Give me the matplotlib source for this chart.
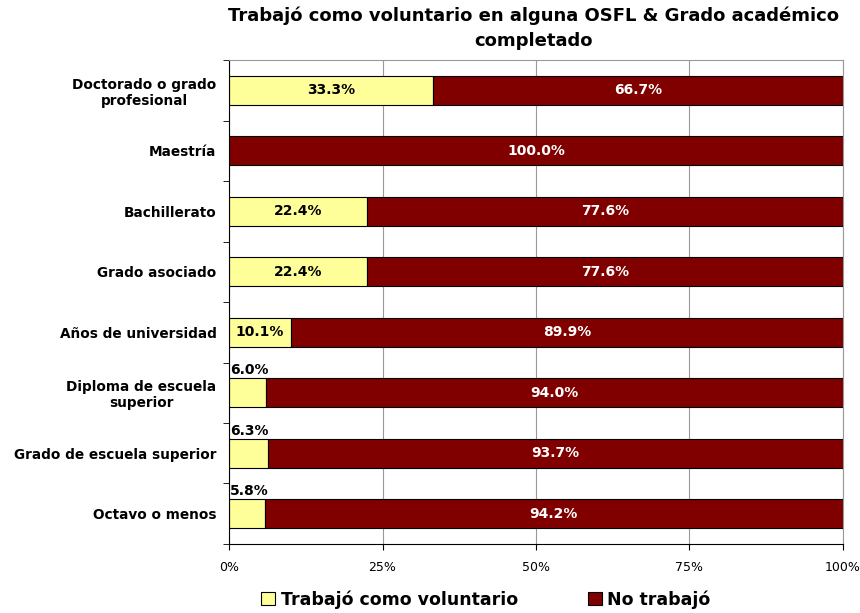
import matplotlib.pyplot as plt
import numpy as np

plt.rcParams['font.family'] = ['DejaVu Sans']

categorias = ["Doctorado o grado\nprofesional", "Maestría", "Bachillerato", "Grado asociado",
              "Años de universidad", "Diploma de escuela\nsuperior", "Grado de escuela superior",
              "Octavo o menos"]
voluntario = [33.3, 0.0, 22.4, 22.4, 10.1, 6.0, 6.3, 5.8]
no_trabajo = [66.7, 100.0, 77.6, 77.6, 89.9, 94.0, 93.7, 94.2]

amarillo = "#FFFF99"
rojo = "#800000"

fig = plt.figure(figsize=(8.6, 6.13), dpi=100)
ax = fig.add_axes([0.2663, 0.1126, 0.9802 - 0.2663, 0.902 - 0.1126])

y = np.arange(len(categorias))
b1 = ax.barh(y, voluntario, height=0.48, color=amarillo, edgecolor="black", linewidth=0.8,
             label="Trabajó como voluntario")
b2 = ax.barh(y, no_trabajo, left=voluntario, height=0.48, color=rojo, edgecolor="black",
             linewidth=0.8, label="No trabajó")

for i in range(len(categorias)):
    v = voluntario[i]
    n = no_trabajo[i]
    if v >= 10:
        ax.text(v / 2, y[i], f"{v:.1f}%", ha="center", va="center", fontsize=10,
                fontweight="bold", color="black")
    elif v > 0:
        ax.text(0.2, y[i] - 0.26, f"{v:.1f}%", ha="left", va="bottom", fontsize=10,
                fontweight="bold", color="black")
    ax.text(v + n / 2, y[i], f"{n:.1f}%", ha="center", va="center", fontsize=10,
            fontweight="bold", color="white")

ax.set_xlim(0, 100)
ax.set_ylim(len(categorias) - 0.5, -0.5)
ax.set_xticks([0, 25, 50, 75, 100])
ax.set_xticklabels(["0%", "25%", "50%", "75%", "100%"], fontsize=9)
ax.xaxis.grid(True, color="#999999", linewidth=0.8)
ax.set_axisbelow(True)

ax.set_yticks(y)
ax.set_yticklabels(categorias, fontsize=9.8, fontweight="bold")
for lbl in ax.get_yticklabels():
    lbl.set_multialignment("center")
ax.tick_params(axis="y", length=0, pad=9)
ax.set_yticks(np.arange(-0.5, len(categorias), 1), minor=True)
ax.tick_params(axis="y", which="minor", length=4, direction="out")
ax.tick_params(axis="x", length=4, pad=8)

for s in ["top", "right"]:
    ax.spines[s].set_color("#999999")
for s in ["left", "bottom"]:
    ax.spines[s].set_color("black")

fig.suptitle("Trabajó como voluntario en alguna OSFL & Grado académico\ncompletado",
             x=0.62, y=0.99, fontsize=13, fontweight="bold", linespacing=1.5)

fig.legend(handles=[b1, b2], loc="center", bbox_to_anchor=(0.565, 0.022), ncol=2,
           frameon=False, prop={"size": 12.5, "weight": "bold"}, columnspacing=4.05,
           handlelength=0.8, handleheight=0.8, handletextpad=0.3)

fig.savefig("out.png", dpi=100)
